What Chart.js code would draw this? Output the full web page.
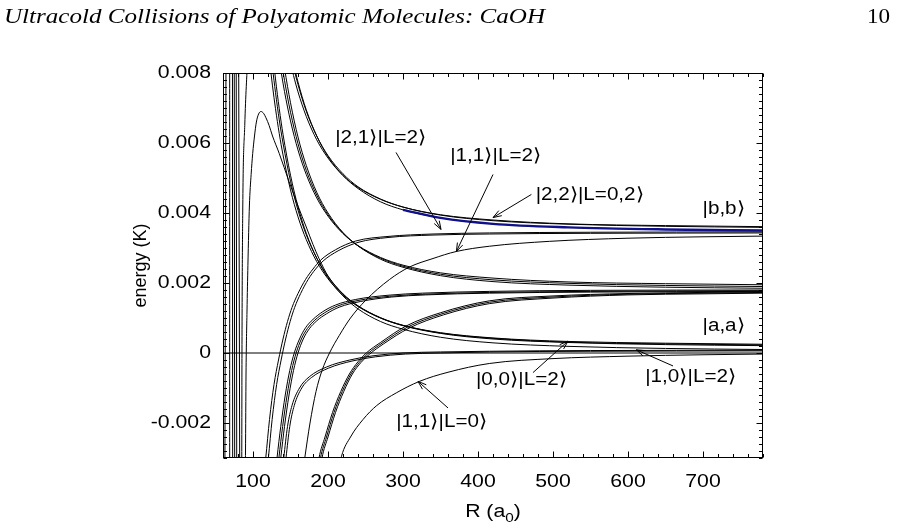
<!DOCTYPE html>
<html><head><meta charset="utf-8">
<script src="https://cdn.jsdelivr.net/npm/chart.js@4/dist/chart.umd.min.js"></script>
<style>html,body{margin:0;padding:0;background:#fff;overflow:hidden}canvas{display:block}</style>
</head><body>
<canvas id="c" width="897" height="531"></canvas>
<script>
// ---------- axes ----------
const xRange = [60, 780];
const yRange = [-0.003, 0.008];
const xTicks = [100, 200, 300, 400, 500, 600, 700];
const xTickLabels = ['100', '200', '300', '400', '500', '600', '700'];
const yTicks = [-0.002, 0, 0.002, 0.004, 0.006, 0.008];
const yTickLabels = ['-0.002', '0', '0.002', '0.004', '0.006', '0.008'];
const xMinorStep = 20;
const yMinorStep = 0.0002;
const headerText = 'Ultracold Collisions of Polyatomic Molecules: CaOH';
const pageNumber = '10';
const yTitle = 'energy (K)';

// ---------- curves: [R (a0), energy (K)] ----------
const zeroLine = [[60, 0], [780, 0]];
const wall1 = [[62.5, -0.0035], [64, 0.0085]];
const wall2 = [[68.9, -0.0035], [68.9, 0.0085]];
const wall3 = [[72.9, -0.0035], [72.6, 0.0085]];
const wall4 = [[75.6, -0.0035], [75, 0.0085]];
const wall5 = [[78.3, -0.0035], [77.6, 0.0085]];
const wall6 = [[82.3, -0.0035], [80.9, 0.0085]];
const wall7 = [[85, -0.0035], [85.3, 0.0], [86.3, 0.004], [89, 0.0065], [93, 0.0085]];
const peak = [[89.5,-0.0035],[90,-0.0028],[90.7,-0.0006],[92,0.0012],[93.2,0.0025],[95.2,0.0042],[97.5,0.0051],[99.6,0.0057],[102,0.0062],[104.5,0.0066],[107.5,0.00683],[110.7,0.0069],[114,0.00685],[117.3,0.00672],[121.5,0.0065],[126,0.0062],[135,0.0057],[148,0.0049],[160,0.0042],[171,0.0036],[180,0.0031],[188,0.0027],[200,0.0022],[220,0.00168],[240,0.00134],[270,0.001],[300,0.00078],[350,0.00056],[420,0.0004],[520,0.0003],[650,0.00024],[780,0.00021]];
const D1a = [[122,0.00836],[126,0.00763],[130,0.00698],[135,0.00627],[140,0.00566],[150,0.00466],[160,0.00389],[171,0.00324],[185,0.00261],[200,0.00212],[220,0.00165],[240,0.00133],[270,0.001],[300,0.00079],[350,0.00058],[420,0.00043],[520,0.00033],[650,0.00028],[780,0.00025]];
const D1b = [[122,0.00896],[126,0.00815],[130,0.00744],[135,0.00666],[140,0.006],[150,0.00491],[160,0.00408],[171,0.00338],[185,0.00271],[200,0.00219],[220,0.00169],[240,0.00135],[270,0.00101],[300,0.00079],[350,0.00057],[420,0.00042],[520,0.00031],[650,0.00026],[780,0.00023]];
const D1c = [[122,0.0095],[126,0.00862],[130,0.00783],[135,0.00698],[140,0.00625],[150,0.00508],[160,0.00418],[171,0.00342],[185,0.00271],[200,0.00215],[220,0.00163],[240,0.00126],[270,0.0009],[300,0.00068],[350,0.00045],[420,0.00029],[520,0.00019],[650,0.00013],[780,0.0001]];
const D2a = [[134,0.00853],[138,0.00797],[142,0.00747],[150,0.00663],[160,0.0058],[171,0.0051],[185,0.00443],[200,0.00391],[220,0.00341],[240,0.00307],[270,0.00273],[300,0.00251],[350,0.00229],[420,0.00214],[520,0.00203],[650,0.00198],[780,0.00195]];
const D2b = [[134,0.00894],[138,0.00833],[142,0.00779],[150,0.00688],[160,0.00598],[171,0.00522],[185,0.00451],[200,0.00395],[220,0.00343],[240,0.00306],[270,0.00271],[300,0.00248],[350,0.00225],[420,0.00209],[520,0.00199],[650,0.00193],[780,0.0019]];
const D2c = [[134,0.0094],[138,0.00873],[142,0.00814],[150,0.00715],[160,0.00617],[171,0.00536],[185,0.00459],[200,0.004],[220,0.00344],[240,0.00306],[270,0.00268],[300,0.00245],[350,0.00221],[420,0.00204],[520,0.00194],[650,0.00188],[780,0.00185]];
const D3a = [[150,0.00829],[154,0.00793],[160,0.00746],[171,0.00676],[185,0.00609],[200,0.00557],[220,0.00507],[240,0.00473],[270,0.00439],[300,0.00417],[350,0.00395],[420,0.0038],[520,0.00369],[650,0.00364],[780,0.00361]];
const D3b = [[150,0.00857],[154,0.00818],[160,0.00767],[171,0.00691],[185,0.0062],[200,0.00564],[220,0.00512],[240,0.00475],[270,0.0044],[300,0.00417],[350,0.00394],[420,0.00378],[520,0.00368],[650,0.00362],[780,0.00359]];
const D3c = [[150,0.00869],[154,0.00828],[160,0.00774],[171,0.00695],[185,0.0062],[200,0.00561],[220,0.00507],[240,0.0047],[270,0.00432],[300,0.00409],[350,0.00386],[420,0.00369],[520,0.00359],[650,0.00353],[780,0.0035]];
const blueLine = [[300,0.00409],[350,0.00386],[420,0.00369],[520,0.00359],[650,0.00353],[780,0.0035]];
const R1a = [[114,-0.0036],[117,-0.003],[122,-0.0019],[128,-0.0009],[134,-0.0002],[140,0.0004],[146,0.0009],[152,0.0013],[160,0.0017],[170,0.0021],[180,0.0024],[190,0.00265],[210,0.00295],[237,0.0032],[280,0.00333],[340,0.0034],[415,0.00343],[550,0.00345],[780,0.00346]];
const R1b = [[117.5,-0.0036],[120.5,-0.003],[125.5,-0.0019],[131.5,-0.0009],[137.5,-0.0002],[143.5,0.0004],[149.5,0.0009],[155.5,0.0013],[163.5,0.0017],[173.5,0.0021],[183.5,0.0024],[193.5,0.00263],[213.5,0.00292],[240,0.00316],[280,0.0033],[340,0.00337],[415,0.0034],[550,0.00342],[780,0.00343]];
const R2a = [[129,-0.0036],[132,-0.003],[137,-0.0021],[143,-0.0012],[149,-0.0005],[155,0.0],[162,0.0004],[170,0.00072],[180,0.00096],[193,0.00118],[210,0.00137],[237,0.00153],[280,0.00165],[326,0.00171],[415,0.00176],[550,0.00179],[780,0.0018]];
const R2b = [[131.5,-0.0036],[134.5,-0.003],[139.5,-0.0021],[145.5,-0.0012],[151.5,-0.0005],[157.5,0.0],[164.5,0.0004],[172.5,0.0007],[182.5,0.00094],[195.5,0.00115],[212.5,0.00134],[240,0.0015],[282,0.00162],[328,0.00168],[415,0.00173],[550,0.00176],[780,0.00178]];
const R2c = [[134,-0.0036],[137,-0.003],[142,-0.0021],[148,-0.0012],[154,-0.0005],[160,0.0],[167,0.0004],[175,0.00069],[185,0.00092],[198,0.00112],[215,0.00131],[243,0.00147],[285,0.0016],[330,0.00166],[415,0.00171],[550,0.00174],[780,0.00176]];
const R3 = [[165,-0.0036],[169,-0.003],[176,-0.002],[184,-0.0011],[192,-0.0005],[202,0.0],[215,0.0005],[230,0.001],[250,0.0015],[282,0.0021],[308,0.00245],[340,0.0027],[371,0.0029],[415,0.00305],[495,0.00319],[600,0.00328],[700,0.00332],[780,0.00334]];
const R4a = [[184,-0.0036],[188,-0.003],[196,-0.0024],[206,-0.0017],[217,-0.0011],[228.5,-0.0006],[240,-0.00025],[251,0.0],[270,0.0003],[304,0.00077],[350,0.00115],[415,0.00149],[500,0.00163],[600,0.0017],[700,0.00173],[780,0.00175]];
const R4b = [[186,-0.0036],[190,-0.003],[198,-0.0024],[208,-0.0017],[219,-0.0011],[230.5,-0.0006],[242,-0.00026],[253,-0.00002],[272,0.00028],[306,0.00074],[352,0.00112],[415,0.00145],[500,0.0016],[600,0.00168],[700,0.00171],[780,0.00173]];
const R4c = [[188,-0.0036],[192,-0.003],[200,-0.0024],[210,-0.0017],[221,-0.0011],[232.5,-0.0006],[244,-0.00027],[255,-0.00004],[274,0.00026],[308,0.00071],[354,0.00109],[415,0.00141],[500,0.00157],[600,0.00166],[700,0.00169],[780,0.00171]];
const R5a = [[138,-0.0036],[141,-0.003],[146,-0.0021],[152,-0.0015],[162,-0.001],[175,-0.00068],[198,-0.0004],[229,-0.0002],[260,-0.00008],[300,0.0],[350,0.00003],[415,0.00005],[550,0.00007],[780,0.00008]];
const R5b = [[141,-0.0036],[144,-0.003],[149,-0.0021],[155,-0.0015],[165,-0.001],[178,-0.0007],[201,-0.00043],[232,-0.00023],[263,-0.00011],[303,-0.00003],[350,0.0],[415,0.00003],[550,0.00005],[780,0.00006]];
const R6 = [[212,-0.0036],[218,-0.00295],[230,-0.0024],[246.7,-0.0019],[265,-0.0015],[291,-0.00114],[322,-0.00081],[360,-0.00055],[415,-0.0003],[500,-0.00016],[600,-0.00009],[700,-0.00005],[780,-0.00003]];

// ---------- annotations (data coordinates) ----------
const labelTexts = ['|2,1\u27E9|L=2\u27E9', '|1,1\u27E9|L=2\u27E9', '|2,2\u27E9|L=0,2\u27E9', '|b,b\u27E9', '|a,a\u27E9', '|0,0\u27E9|L=2\u27E9', '|1,0\u27E9|L=2\u27E9', '|1,1\u27E9|L=0\u27E9'];
const labelR = [270.3, 423.6, 549, 727.6, 727.6, 458, 683.6, 351.6];
const labelE = [0.00615, 0.00561, 0.00452, 0.00411, 0.00078, -0.00079, -0.00068, -0.00198];
const arrowFromR = [290.7, 420, 471.2, 473.3, 660, 360];
const arrowFromE = [0.00573, 0.0051, 0.00453, -0.00056, -0.00037, -0.00157];
const arrowToR = [350.7, 371.2, 420, 520, 611.2, 320];
const arrowToE = [0.00353, 0.0029, 0.00387, 0.00034, 0.00009, -0.00081];

const blackCurves = [zeroLine, wall1, wall2, wall3, wall4, wall5, wall6, wall7, peak,
  D1a, D1b, D1c, D2a, D2b, D2c, D3a, D3b, D3c, R1a, R1b, R2a, R2b, R2c, R3, R4a, R4b, R4c, R5a, R5b, R6];

const datasets = [{
  data: blueLine.map(p => ({x: p[0], y: p[1]})),
  borderColor: '#10108c', borderWidth: 2.4, pointRadius: 0, fill: false,
  cubicInterpolationMode: 'monotone', order: 0
}];
blackCurves.forEach(c => datasets.push({
  data: c.map(p => ({x: p[0], y: p[1]})),
  borderColor: '#000', borderWidth: 1, pointRadius: 0, fill: false,
  cubicInterpolationMode: 'monotone', order: 1
}));

const SANS = '"Liberation Sans", Arial, Helvetica, sans-serif';
const SX = 1.18;
function txt(ctx, s, x, y, align, base, size, sx) {
  ctx.save();
  ctx.font = size + 'px ' + SANS;
  ctx.textAlign = align; ctx.textBaseline = base;
  ctx.translate(x, y); ctx.scale(sx, 1);
  ctx.fillText(s, 0, 0);
  ctx.restore();
}
function arrow(ctx, x0, y0, x1, y1) {
  ctx.beginPath(); ctx.moveTo(x0, y0); ctx.lineTo(x1, y1); ctx.stroke();
  const a = Math.atan2(y1 - y0, x1 - x0), L = 9, w = 0.33;
  ctx.beginPath();
  ctx.moveTo(x1 - L * Math.cos(a - w), y1 - L * Math.sin(a - w));
  ctx.lineTo(x1, y1);
  ctx.lineTo(x1 - L * Math.cos(a + w), y1 - L * Math.sin(a + w));
  ctx.stroke();
}

const inkPlugin = {
  id: 'ink',
  afterDraw(chart) {
    const ctx = chart.ctx, a = chart.chartArea, xs = chart.scales.x, ys = chart.scales.y;
    ctx.save();
    ctx.strokeStyle = '#000'; ctx.fillStyle = '#000'; ctx.lineWidth = 1;
    ctx.strokeRect(Math.round(a.left) + 0.5, Math.round(a.top) + 0.5, Math.round(a.right - a.left) - 1, Math.round(a.bottom - a.top) - 1);
    const L = Math.round(a.left) + 0.5, R = Math.round(a.right) - 0.5, T = Math.round(a.top) + 0.5, B = Math.round(a.bottom) - 0.5;
    ctx.beginPath();
    for (let v = xRange[0]; v <= xRange[1]; v += xMinorStep) {
      const px = Math.round(xs.getPixelForValue(v)) + 0.5;
      const len = (v % 100 === 0) ? 6 : 3.5;
      ctx.moveTo(px, B); ctx.lineTo(px, B - len);
      ctx.moveTo(px, T); ctx.lineTo(px, T + len);
    }
    const k0 = Math.round(yRange[0] / yMinorStep), k1 = Math.round(yRange[1] / yMinorStep);
    for (let k = k0; k <= k1; k++) {
      const py = Math.round(ys.getPixelForValue(k * yMinorStep)) + 0.5;
      const len = (k % 10 === 0) ? 6 : 3.5;
      ctx.moveTo(L, py); ctx.lineTo(L + len, py);
      ctx.moveTo(R, py); ctx.lineTo(R - len, py);
    }
    ctx.stroke();
    xTicks.forEach((v, i) => txt(ctx, xTickLabels[i], xs.getPixelForValue(v), 487, 'center', 'alphabetic', 18, SX));
    yTicks.forEach((v, i) => txt(ctx, yTickLabels[i], 211, ys.getPixelForValue(v), 'right', 'middle', 18, SX));
    // y title
    ctx.save();
    ctx.translate(141, (a.top + a.bottom) / 2);
    ctx.rotate(-Math.PI / 2);
    ctx.font = '18px ' + SANS; ctx.textAlign = 'center'; ctx.textBaseline = 'middle';
    ctx.fillText(yTitle, 0, 0);
    ctx.restore();
    // x title R (a0)
    ctx.save();
    ctx.font = '18px ' + SANS;
    const p1 = 'R (a', p3 = ')';
    const w1 = ctx.measureText(p1).width, w3 = ctx.measureText(p3).width;
    ctx.font = '13px ' + SANS;
    const w2 = ctx.measureText('0').width;
    const total = (w1 + w2 + w3) * SX;
    const x0 = (a.left + a.right) / 2 - total / 2;
    ctx.translate(x0, 517); ctx.scale(SX, 1);
    ctx.textAlign = 'left'; ctx.textBaseline = 'alphabetic';
    ctx.font = '18px ' + SANS; ctx.fillText(p1, 0, 0);
    ctx.font = '13px ' + SANS; ctx.fillText('0', w1, 5);
    ctx.font = '18px ' + SANS; ctx.fillText(p3, w1 + w2, 0);
    ctx.restore();
    // annotations
    labelTexts.forEach((s, i) => txt(ctx, s, xs.getPixelForValue(labelR[i]), ys.getPixelForValue(labelE[i]), 'center', 'middle', 17.5, SX));
    ctx.lineWidth = 1;
    arrowFromR.forEach((r, i) => arrow(ctx, xs.getPixelForValue(r), ys.getPixelForValue(arrowFromE[i]), xs.getPixelForValue(arrowToR[i]), ys.getPixelForValue(arrowToE[i])));
    // header
    ctx.save();
    ctx.font = 'italic 21px "Liberation Serif", "Times New Roman", serif';
    ctx.textAlign = 'left'; ctx.textBaseline = 'alphabetic';
    const hw = ctx.measureText(headerText).width;
    ctx.translate(4, 23); ctx.scale(541 / hw, 1);
    ctx.fillText(headerText, 0, 0);
    ctx.restore();
    ctx.save();
    ctx.font = '21px "Liberation Serif", "Times New Roman", serif';
    ctx.textAlign = 'right'; ctx.textBaseline = 'alphabetic';
    ctx.translate(890, 23); ctx.scale(1.1, 1);
    ctx.fillText(pageNumber, 0, 0);
    ctx.restore();
    ctx.restore();
  }
};

new Chart(document.getElementById('c').getContext('2d'), {
  type: 'line',
  data: { datasets },
  options: {
    responsive: false, animation: false, devicePixelRatio: 1,
    layout: { padding: { left: 0, right: 134, top: 73, bottom: 0 } },
    plugins: { legend: { display: false }, tooltip: { enabled: false } },
    elements: { point: { radius: 0 } },
    scales: {
      x: { type: 'linear', min: xRange[0], max: xRange[1], grid: { display: false }, border: { display: false }, ticks: { display: false }, afterFit(s) { s.height = 73; } },
      y: { type: 'linear', min: yRange[0], max: yRange[1], grid: { display: false }, border: { display: false }, ticks: { display: false }, afterFit(s) { s.width = 223; } }
    }
  },
  plugins: [inkPlugin]
});
</script>
</body></html>
